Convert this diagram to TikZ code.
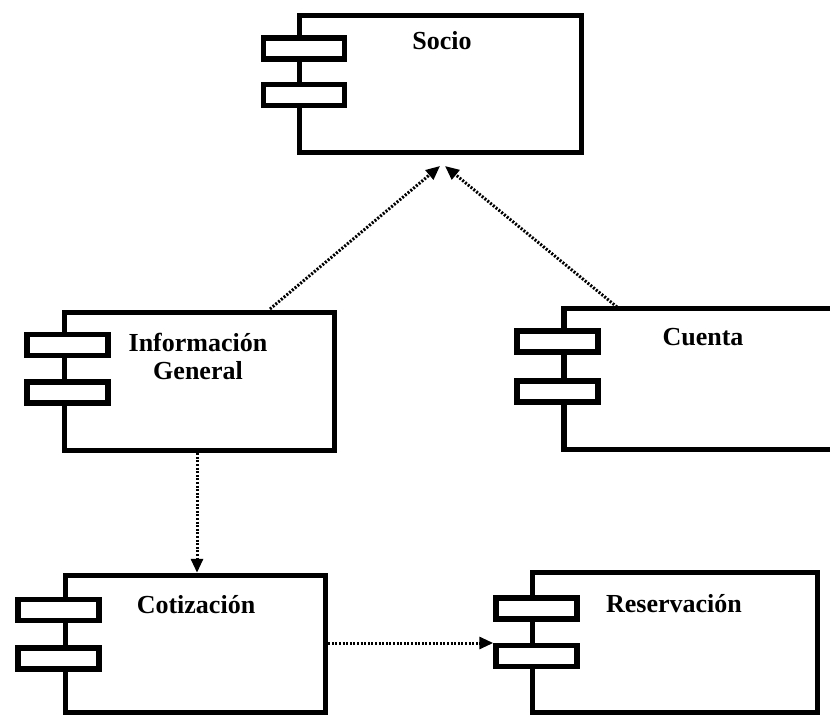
\documentclass[tikz,border=0pt]{standalone}
\usepackage{fontspec}
\setmainfont{Liberation Serif}
\usetikzlibrary{arrows.meta}
\begin{document}
\begin{tikzpicture}[x=1bp,y=-1bp,
  compbox/.style={draw=black,line width=5.5bp,fill=white,inner sep=0pt},
  portbox/.style={draw=black,line width=5.5bp,fill=white,inner sep=0pt,minimum width=81bp,minimum height=21bp},
  comptext/.style={font=\fontsize{26bp}{28bp}\selectfont\bfseries,inner sep=0pt,align=center},
  dep/.style={line width=3bp,dash pattern=on 2bp off 1.6bp,-{Triangle[length=14bp,width=12bp]}}]
\useasboundingbox (0,0) rectangle (830,718);
\fill[white] (0,0) rectangle (830,718);
% Socio
\node[compbox,minimum width=282bp,minimum height=137bp] (socio) at (440.5,84) {};
\node[portbox] (socioP1) at (304,48.5) {};
\node[portbox] (socioP2) at (304,95) {};
\node[comptext,anchor=base] (socioT) at (442,50) {Socio};
% Informacion General
\node[compbox,minimum width=270bp,minimum height=138bp] (ig) at (199.5,381.5) {};
\node[portbox] (igP1) at (67.5,345) {};
\node[portbox] (igP2) at (67.5,392.5) {};
\node[comptext] (igT) at (198,356) {Información\\General};
% Cuenta
\node[compbox,minimum width=276bp,minimum height=141bp] (cuenta) at (702,379) {};
\node[portbox] (cuentaP1) at (557.5,341.5) {};
\node[portbox] (cuentaP2) at (557.5,391.5) {};
\node[comptext,anchor=base] (cuentaT) at (703,345) {Cuenta};
% Cotizacion
\node[compbox,minimum width=260bp,minimum height=137bp] (cot) at (195.5,644) {};
\node[portbox] (cotP1) at (58.5,610) {};
\node[portbox] (cotP2) at (58.5,658.5) {};
\node[comptext,anchor=base] (cotT) at (196,613) {Cotización};
% Reservacion
\node[compbox,minimum width=285bp,minimum height=140bp] (res) at (675,642.5) {};
\node[portbox] (resP1) at (536.5,608.5) {};
\node[portbox] (resP2) at (536.5,656) {};
\node[comptext,anchor=base] (resT) at (674,612) {Reservación};
% connector ends
\coordinate (igTop) at (270,309);
\coordinate (cuentaTop) at (617,307);
\coordinate (s1) at (440,166);
\coordinate (s2) at (445,166);
\draw[dep] (igTop) -- (s1);
\draw[dep] (cuentaTop) -- (s2);
\draw[dep] (ig.south -| 197,0) -- (cot.north -| 197,0);
\draw[dep] (cot.east |- 0,643) -- (resP2.west |- 0,643);
\end{tikzpicture}
\end{document}
